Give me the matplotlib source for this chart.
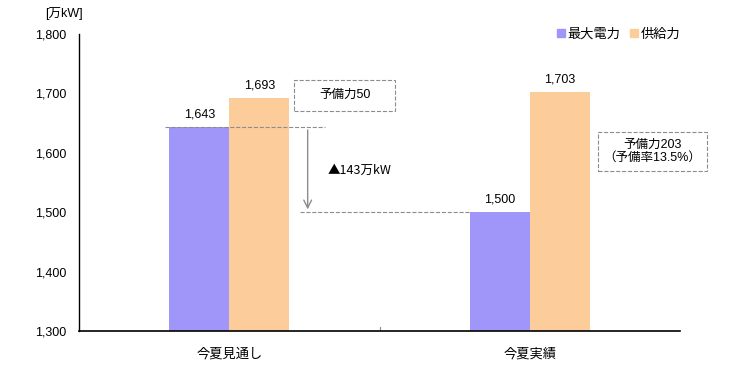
import numpy as np
import matplotlib
matplotlib.use("Agg")
import matplotlib.pyplot as plt
from matplotlib.patches import Patch, Rectangle

plt.rcParams['font.family'] = ['Liberation Sans', 'Noto Sans CJK JP', 'DejaVu Sans']

categories = ['今夏見通し', '今夏実績']
series_names = ['最大電力', '供給力']
peak_demand = [1643, 1500]
supply = [1693, 1703]
y_ticks = [1300, 1400, 1500, 1600, 1700, 1800]

purple = '#A095F8'
orange = '#FDCC9B'
gray = '#8C8C8C'

fig = plt.figure(figsize=(7.5, 3.7), dpi=100)
ax = fig.add_axes([79 / 750, 1 - 331 / 370, 601 / 750, 297 / 370])

x = np.arange(len(categories))
w = 0.2
ax.bar(x - w / 2, peak_demand, w, color=purple, label=series_names[0], zorder=2)
ax.bar(x + w / 2, supply, w, color=orange, label=series_names[1], zorder=2)

for xi, v in zip(x - w / 2, peak_demand):
    ax.text(xi, v + 11, f'{v:,}', ha='center', va='bottom', fontsize=9)
for xi, v in zip(x + w / 2, supply):
    ax.text(xi, v + 11, f'{v:,}', ha='center', va='bottom', fontsize=9)

ax.set_xlim(-0.5, 1.5)
ax.set_ylim(1300, 1800)
ax.set_yticks(y_ticks)
ax.set_yticklabels([f'{t:,}' for t in y_ticks], fontsize=9)
ax.set_xticks(x)
ax.set_xticklabels(categories, fontsize=9.5)
ax.tick_params(axis='y', length=0, pad=9)
ax.tick_params(axis='x', length=0, pad=12)
ax.axvline(0.5, ymin=0, ymax=0.015, color=gray, lw=0.8)
for s in ['top', 'right']:
    ax.spines[s].set_visible(False)
ax.spines['left'].set_linewidth(1.0)
ax.spines['bottom'].set_linewidth(1.2)

# difference guides
gap = peak_demand[0] - peak_demand[1]
ax.plot([-0.214, 0.317], [peak_demand[0]] * 2, ls='--', color=gray, lw=0.8, zorder=3)
ax.plot([0.234, 1 - w], [peak_demand[1]] * 2, ls='--', color=gray, lw=0.8, zorder=3)
ax.annotate('', xy=(0.261, peak_demand[1]), xytext=(0.261, peak_demand[0]),
            arrowprops=dict(arrowstyle='->', color=gray, lw=1.0, mutation_scale=14))
ax.text(0.327, 1570, f'▲{gap}万kW', fontsize=9, ha='left', va='center',
        family=['Noto Sans CJK JP'])

# reserve boxes
ax.add_patch(Rectangle((0.214, 1670), 0.339, 53, fill=False, ec=gray, ls='--', lw=0.8))
ax.text(0.384, 1697, f'予備力{supply[0] - peak_demand[0]}', fontsize=9,
        ha='center', va='center')
ax.add_patch(Rectangle((1.228, 1569), 0.362, 66, fill=False, ec=gray, ls='--', lw=0.8,
                       clip_on=False))
rate = (supply[1] - peak_demand[1]) / peak_demand[1] * 100
ax.text(1.407, 1602, f'予備力{supply[1] - peak_demand[1]}\n（予備率{rate:.1f}%）', fontsize=9,
        ha='center', va='center', linespacing=1.15)

fig.text(45 / 750, 1 - 14 / 370, '[万kW]', fontsize=9, ha='left', va='center')

ax.legend(handles=[Patch(color=purple), Patch(color=orange)], labels=series_names,
          loc='upper right', bbox_to_anchor=(1.02, 1.06), ncol=2, frameon=False,
          fontsize=9.5, handlelength=0.6, handleheight=0.6, handletextpad=0.2,
          columnspacing=0.7)

fig.savefig('out.png', dpi=100)
